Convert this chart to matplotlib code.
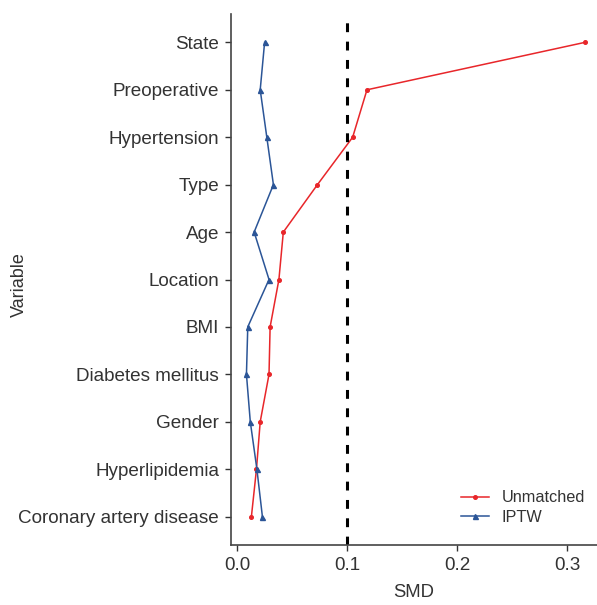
import matplotlib
matplotlib.use("Agg")
import matplotlib.pyplot as plt

plt.rcParams["font.family"] = ["Liberation Sans", "DejaVu Sans"]

variables = [
    "Coronary artery disease",
    "Hyperlipidemia",
    "Gender",
    "Diabetes mellitus",
    "BMI",
    "Location",
    "Age",
    "Type",
    "Hypertension",
    "Preoperative",
    "State",
]
unmatched = [0.013, 0.0176, 0.021, 0.029, 0.030, 0.038, 0.042, 0.073, 0.105, 0.118, 0.316]
iptw = [0.023, 0.018, 0.012, 0.0085, 0.0097, 0.029, 0.0155, 0.033, 0.027, 0.021, 0.025]
threshold = 0.1

text_color = "#333333"

fig = plt.figure(figsize=(5.97, 6.05), dpi=100)
ax = fig.add_axes([0.387, 0.099, 0.613, 0.878])

y = list(range(len(variables)))
ax.plot(unmatched, y, color="#e8262a", marker="o", markersize=2.6, lw=1.1, label="Unmatched")
ax.plot(iptw, y, color="#2b5597", marker="^", markersize=3.6, lw=1.1, label="IPTW")
ax.axvline(threshold, color="black", ls=(0, (2.9, 3.1)), lw=2.2)

ax.set_yticks(y)
ax.set_yticklabels(variables)
ax.set_ylim(-0.6, len(variables) - 0.4)
ax.set_xticks([0.0, 0.1, 0.2, 0.3])
ax.set_xticklabels(["0.0", "0.1", "0.2", "0.3"])
ax.set_xlim(-0.0055, 0.327)

for s in ["top", "right"]:
    ax.spines[s].set_visible(False)
for s in ["left", "bottom"]:
    ax.spines[s].set_color("#444444")
    ax.spines[s].set_linewidth(1.2)

ax.tick_params(axis="both", labelsize=13.6, colors="#333333", labelcolor=text_color,
               length=4.5, width=1.0, pad=4)
ax.set_xlabel("SMD", fontsize=13.3, color=text_color, labelpad=7)
ax.set_ylabel("Variable", fontsize=13, color=text_color)
ax.yaxis.set_label_coords(-0.555, 0.49)

ax.legend(loc="lower right", frameon=False, fontsize=11.7, handlelength=1.7,
          labelspacing=0.3, labelcolor=text_color, bbox_to_anchor=(1.008, 0.01))

fig.savefig("out.png", dpi=100)
